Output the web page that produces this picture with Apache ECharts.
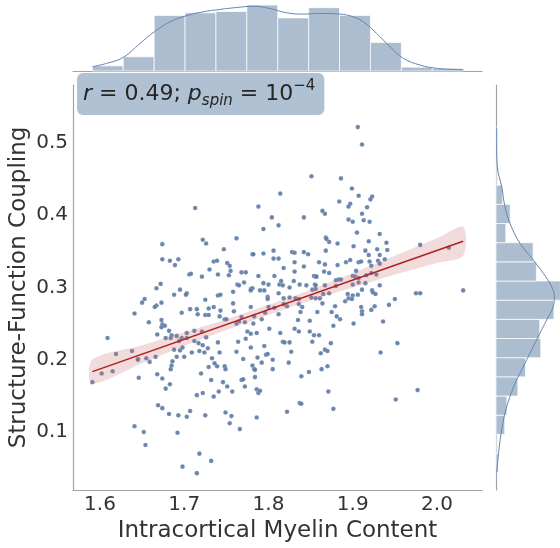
<!DOCTYPE html>
<html><head><meta charset="utf-8">
<script src="https://cdn.jsdelivr.net/npm/echarts@6/dist/echarts.min.js"></script>
<style>html,body{margin:0;padding:0;background:#fff}#c{width:560px;height:548px}</style>
</head><body><div id="c"></div><script>
// ---- data ----
const xTicks = [1.6, 1.7, 1.8, 1.9, 2.0];
const yTicks = [0.1, 0.2, 0.3, 0.4, 0.5];
const xLabel = 'Intracortical Myelin Content';
const yLabel = 'Structure-Function Coupling';

const points = [
[1.814,0.430],[1.713,0.410],[1.788,0.412],[1.804,0.397],[1.794,0.381],[1.812,0.386],[1.674,0.360],[1.722,0.366],[1.726,0.361],[1.762,0.368],[1.747,0.353],[1.806,0.351],[1.674,0.339],[1.683,0.337],[1.693,0.339],[1.689,0.331],[1.735,0.336],[1.739,0.337],[1.781,0.346],[1.782,0.346],[1.794,0.347],[1.806,0.340],[1.812,0.340],[1.751,0.334],[1.754,0.330],[1.730,0.325],[1.755,0.323],[1.818,0.327],[1.706,0.318],[1.708,0.319],[1.721,0.315],[1.740,0.318],[1.753,0.317],[1.768,0.321],[1.773,0.321],[1.788,0.316],[1.807,0.316],[1.672,0.305],[1.667,0.299],[1.695,0.297],[1.703,0.292],[1.702,0.290],[1.688,0.290],[1.725,0.283],[1.740,0.289],[1.743,0.290],[1.758,0.294],[1.763,0.304],[1.765,0.303],[1.771,0.307],[1.779,0.298],[1.781,0.299],[1.779,0.296],[1.790,0.296],[1.794,0.306],[1.795,0.296],[1.800,0.304],[1.813,0.304],[1.817,0.303],[1.815,0.309],[1.812,0.292],[1.825,0.300],[1.799,0.287],[1.799,0.284],[1.653,0.284],[1.818,0.285],[1.825,0.286],
[1.906,0.522],[1.911,0.498],[1.851,0.454],[1.886,0.451],[1.899,0.437],[1.907,0.427],[1.923,0.426],[1.921,0.422],[1.884,0.419],[1.897,0.416],[1.895,0.412],[1.917,0.411],[1.864,0.406],[1.867,0.402],[1.842,0.397],[1.911,0.402],[1.895,0.394],[1.900,0.391],[1.913,0.393],[1.920,0.391],[1.905,0.376],[1.932,0.374],[1.868,0.369],[1.869,0.367],[1.872,0.363],[1.882,0.361],[1.919,0.364],[1.940,0.362],[1.901,0.357],[1.828,0.349],[1.831,0.348],[1.842,0.349],[1.847,0.346],[1.868,0.351],[1.929,0.353],[1.941,0.352],[1.915,0.351],[1.980,0.359],[2.014,0.355],[1.831,0.335],[1.842,0.329],[1.860,0.335],[1.867,0.332],[1.882,0.331],[1.892,0.335],[1.897,0.338],[1.907,0.335],[1.910,0.336],[1.920,0.336],[1.922,0.330],[1.930,0.337],[1.932,0.333],[1.919,0.345],[1.932,0.345],[1.938,0.339],[1.831,0.322],[1.866,0.322],[1.872,0.320],[1.854,0.316],[1.856,0.315],[1.857,0.315],[1.880,0.310],[1.883,0.311],[1.886,0.311],[1.904,0.323],[1.900,0.316],[1.903,0.315],[1.907,0.313],[1.916,0.317],[1.922,0.320],[1.928,0.318],[1.855,0.304],[1.856,0.303],[1.867,0.303],[1.880,0.302],[1.900,0.304],[1.907,0.307],[1.915,0.306],[1.932,0.303],[1.837,0.304],[1.845,0.303],[1.830,0.309],[1.852,0.297],[1.856,0.298],[1.865,0.291],[1.872,0.292],[1.894,0.291],[1.900,0.289],[1.906,0.290],[1.911,0.297],[1.923,0.296],[1.924,0.293],[1.927,0.291],[1.975,0.292],[1.980,0.292],[2.031,0.296],[1.832,0.285],[1.836,0.284],[1.851,0.286],[1.856,0.285],[1.861,0.285],[1.895,0.285],[1.899,0.284],[1.950,0.284],
[1.650,0.279],[1.667,0.275],[1.665,0.273],[1.673,0.279],[1.641,0.264],[1.658,0.252],[1.673,0.255],[1.674,0.249],[1.677,0.247],[1.673,0.245],[1.668,0.235],[1.682,0.240],[1.685,0.234],[1.684,0.230],[1.678,0.230],[1.691,0.233],[1.694,0.226],[1.697,0.230],[1.703,0.230],[1.703,0.237],[1.609,0.230],[1.619,0.208],[1.638,0.212],[1.645,0.201],[1.645,0.200],[1.655,0.202],[1.659,0.197],[1.666,0.204],[1.646,0.175],[1.615,0.184],[1.602,0.181],[1.591,0.169],[1.668,0.180],[1.674,0.174],[1.678,0.160],[1.683,0.166],[1.684,0.187],[1.685,0.192],[1.686,0.198],[1.691,0.204],[1.688,0.214],[1.695,0.213],[1.698,0.217],[1.700,0.204],[1.709,0.210],[1.712,0.240],[1.718,0.212],[1.712,0.226],[1.717,0.223],[1.722,0.220],[1.724,0.210],[1.728,0.216],[1.721,0.239],[1.726,0.231],[1.729,0.190],[1.732,0.172],[1.733,0.202],[1.720,0.181],[1.715,0.151],[1.722,0.154],[1.735,0.149],[1.736,0.195],[1.739,0.191],[1.740,0.224],[1.742,0.210],[1.741,0.156],[1.746,0.169],[1.751,0.163],[1.748,0.191],[1.749,0.187],[1.757,0.156],[1.762,0.211],[1.764,0.225],[1.770,0.201],[1.772,0.163],[1.768,0.172],[1.770,0.173],[1.779,0.217],[1.773,0.229],[1.775,0.239],[1.779,0.236],[1.782,0.250],[1.786,0.237],[1.787,0.203],[1.781,0.192],[1.783,0.187],[1.784,0.186],[1.784,0.176],[1.786,0.159],[1.788,0.154],[1.790,0.157],[1.792,0.196],[1.795,0.219],[1.797,0.207],[1.799,0.208],[1.801,0.243],[1.805,0.200],[1.805,0.187],[1.814,0.237],[1.817,0.225],[1.819,0.224],[1.825,0.224],[1.824,0.196],[1.822,0.128],[1.786,0.120],[1.756,0.122],[1.749,0.127],[1.754,0.112],[1.766,0.104],[1.725,0.123],[1.707,0.129],[1.703,0.121],[1.693,0.123],[1.682,0.125],[1.674,0.133],[1.669,0.137],[1.641,0.108],[1.652,0.100],[1.654,0.082],[1.692,0.099],[1.718,0.070],[1.732,0.060],[1.698,0.052],[1.715,0.043],
[1.697,0.265],[1.707,0.270],[1.715,0.270],[1.716,0.263],[1.725,0.262],[1.729,0.262],[1.729,0.271],[1.735,0.273],[1.743,0.268],[1.742,0.260],[1.748,0.256],[1.750,0.256],[1.758,0.278],[1.759,0.267],[1.762,0.250],[1.765,0.253],[1.768,0.259],[1.772,0.252],[1.779,0.273],[1.783,0.260],[1.792,0.256],[1.796,0.265],[1.800,0.273],[1.807,0.272],[1.812,0.263],[1.818,0.277],[1.822,0.274],
[1.836,0.277],[1.840,0.273],[1.838,0.266],[1.835,0.255],[1.831,0.243],[1.836,0.239],[1.849,0.254],[1.849,0.239],[1.854,0.234],[1.860,0.234],[1.858,0.266],[1.875,0.266],[1.879,0.274],[1.881,0.260],[1.885,0.256],[1.877,0.247],[1.852,0.225],[1.874,0.223],[1.827,0.211],[1.867,0.214],[1.870,0.212],[1.862,0.209],[1.870,0.191],[1.863,0.187],[1.848,0.183],[1.839,0.177],[1.871,0.156],[1.837,0.140],[1.839,0.139],[1.877,0.132],[1.910,0.273],[1.911,0.267],[1.911,0.263],[1.901,0.250],[1.891,0.281],[1.922,0.269],[1.926,0.274],[1.936,0.253],[1.943,0.276],[1.933,0.210],[1.953,0.223],[1.951,0.145],[1.977,0.158],[1.864,0.278]
];

// regression line and its confidence band
const regX = [1.591, 2.031];
const regY = [0.1835, 0.364];
const ciX    = [1.591, 1.65, 1.70, 1.75, 1.80, 1.85, 1.90, 1.95, 2.00, 2.031];
const ciLow  = [0.167, 0.195, 0.219, 0.241, 0.262, 0.282, 0.300, 0.318, 0.334, 0.344];
const ciHigh = [0.200, 0.220, 0.238, 0.256, 0.276, 0.297, 0.320, 0.344, 0.368, 0.384];

// marginal histograms (counts per bin) and their KDE curves
const histXRange = [1.591, 2.031];
const histXCounts = [4, 11, 43, 45, 46, 51, 41, 49, 43, 22, 3, 2];
const histYRange = [0.0437, 0.5212];
const histYCounts = [2, 0, 8, 10, 20, 27, 41, 40, 53, 59, 37, 34, 9, 13, 6, 0, 0, 1];
const kdeXpos = [1.5913,1.6079,1.6277,1.6475,1.6645,1.6831,1.7009,1.7226,1.7424,1.7622,1.7820,1.8018,1.8216,1.8413,1.8611,1.8849,1.9007,1.9126,1.9284,1.9442,1.9600,1.9798,1.9996,2.0313];
const kdeXval = [3.3,5.9,10.5,21.3,30.3,38.0,42.4,45.8,47.6,49.1,50.1,48.3,45.0,44.0,44.5,44.0,41.9,38.0,29.0,18.8,9.8,4.6,2.1,1.0];
const kdeYpos = [0.5212,0.4972,0.4672,0.4396,0.4119,0.3888,0.3611,0.3381,0.3196,0.3012,0.2873,0.2735,0.2550,0.2366,0.2181,0.1950,0.1720,0.1489,0.1259,0.1028,0.0798,0.0437];
const kdeYval = [0.6,0.6,1.2,5.2,8.2,12.8,22,34.1,43.3,50.9,53.4,52.4,46.3,40.2,34.1,26.5,18.9,12.8,8.2,5.2,3.0,0.6];

const statText = '{i|r} = 0.49; {i|p}{sub|spin} = 10{sup|\u22124}';

// ---- build ----
const FONT = 'DejaVu Sans';
const X_MIN = 1.568, X_MAX = 2.0534, Y_MIN = 0.0197, Y_MAX = 0.5803;
function bins(range, counts) {
  const w = (range[1] - range[0]) / counts.length;
  return counts.map((c, i) => [range[0] + i * w, range[0] + (i + 1) * w, c]);
}
const HIST_FILL = '#adbdd0', HIST_EDGE = 'rgba(255,255,255,0.7)', KDE = '#6585b0';

const chart = echarts.init(document.getElementById('c'), null, {renderer: 'canvas'});
const axisGray = {show: true, onZero: false, lineStyle: {color: '#a3a3a3', width: 1.2}};
chart.setOption({
  animation: false,
  backgroundColor: '#fff',
  title: {
    text: statText, left: 77, top: 73,
    backgroundColor: '#b0c1d3', borderRadius: 6, padding: [6, 9, 6, 6],
    textStyle: {
      fontFamily: FONT, fontSize: 22, fontWeight: 'normal', color: '#262626', lineHeight: 30,
      rich: {
        i: {fontFamily: FONT, fontSize: 22, fontStyle: 'italic', color: '#262626', lineHeight: 30},
        sub: {fontFamily: FONT, fontSize: 15, fontStyle: 'italic', color: '#262626', lineHeight: 20, verticalAlign: 'bottom'},
        sup: {fontFamily: FONT, fontSize: 15, color: '#262626', lineHeight: 18, verticalAlign: 'top'}
      }
    }
  },
  grid: [
    {left: 73, top: 85, width: 409, height: 405, outerBoundsMode: 'none', containLabel: false},
    {left: 73, top: 0, width: 409, height: 71, outerBoundsMode: 'none', containLabel: false},
    {left: 496, top: 85, width: 64, height: 405, outerBoundsMode: 'none', containLabel: false}
  ],
  xAxis: [
    {gridIndex: 0, type: 'value', min: X_MIN, max: X_MAX, splitLine: {show: false},
     axisLine: axisGray, axisTick: {show: false},
     axisLabel: {customValues: xTicks, formatter: v => v.toFixed(1), fontFamily: FONT, fontSize: 20, color: '#333', margin: 5},
     name: xLabel, nameLocation: 'middle', nameGap: 26,
     nameTextStyle: {fontFamily: FONT, fontSize: 23, color: '#333'}},
    {gridIndex: 1, type: 'value', min: X_MIN, max: X_MAX, splitLine: {show: false},
     axisLine: axisGray, axisTick: {show: false}, axisLabel: {show: false}},
    {gridIndex: 2, type: 'value', min: 0, max: 58.6, show: false}
  ],
  yAxis: [
    {gridIndex: 0, type: 'value', min: Y_MIN, max: Y_MAX, splitLine: {show: false},
     axisLine: axisGray, axisTick: {show: false},
     axisLabel: {customValues: yTicks, formatter: v => v.toFixed(1), fontFamily: FONT, fontSize: 20, color: '#333', margin: 5},
     name: yLabel, nameLocation: 'middle', nameGap: 42, nameMoveOverlap: false,
     nameTextStyle: {fontFamily: FONT, fontSize: 23, color: '#333'}},
    {gridIndex: 1, type: 'value', min: 0, max: 54.9, show: false},
    {gridIndex: 2, type: 'value', min: Y_MIN, max: Y_MAX, splitLine: {show: false},
     axisLine: axisGray, axisTick: {show: false}, axisLabel: {show: false}}
  ],
  series: [
    {type: 'scatter', xAxisIndex: 0, yAxisIndex: 0, data: points, symbolSize: 4.6,
     itemStyle: {color: '#5b79a4', opacity: 0.9, borderColor: 'rgba(255,255,255,0.5)', borderWidth: 0.4}, z: 2},
    {type: 'custom', xAxisIndex: 0, yAxisIndex: 0, z: 3,
     data: ciX.map((x, i) => [x, ciLow[i], ciHigh[i]]),
     renderItem: (params, api) => {
       if (params.dataIndex !== 0) return null;
       const up = ciX.map((x, i) => api.coord([x, ciHigh[i]]));
       const lo = ciX.map((x, i) => api.coord([x, ciLow[i]])).reverse();
       return {type: 'polygon', shape: {points: up.concat(lo), smooth: 0.3},
               style: {fill: 'rgba(205,110,110,0.25)'}};
     }},
    {type: 'line', xAxisIndex: 0, yAxisIndex: 0, z: 4, data: regX.map((x, i) => [x, regY[i]]),
     symbol: 'none', lineStyle: {color: '#b01e1e', width: 1.5}},
    {type: 'custom', xAxisIndex: 1, yAxisIndex: 1, data: bins(histXRange, histXCounts),
     renderItem: (params, api) => {
       const p0 = api.coord([api.value(0), 0]), p1 = api.coord([api.value(1), api.value(2)]);
       return {type: 'rect', shape: {x: p0[0], y: p1[1], width: p1[0] - p0[0], height: p0[1] - p1[1]},
               style: {fill: HIST_FILL, stroke: HIST_EDGE, lineWidth: 1}};
     }},
    {type: 'line', xAxisIndex: 1, yAxisIndex: 1, data: kdeXpos.map((x, i) => [x, kdeXval[i]]),
     symbol: 'none', smooth: 0.4, lineStyle: {color: KDE, width: 1}},
    {type: 'custom', xAxisIndex: 2, yAxisIndex: 2, data: bins(histYRange, histYCounts),
     renderItem: (params, api) => {
       const p0 = api.coord([0, api.value(0)]), p1 = api.coord([api.value(2), api.value(1)]);
       return {type: 'rect', shape: {x: p0[0], y: p1[1], width: p1[0] - p0[0], height: p0[1] - p1[1]},
               style: {fill: HIST_FILL, stroke: HIST_EDGE, lineWidth: 1}};
     }},
    {type: 'line', xAxisIndex: 2, yAxisIndex: 2, data: kdeYpos.map((y, i) => [kdeYval[i], y]),
     symbol: 'none', smooth: 0.4, lineStyle: {color: KDE, width: 1}}
  ]
});
</script></body></html>
